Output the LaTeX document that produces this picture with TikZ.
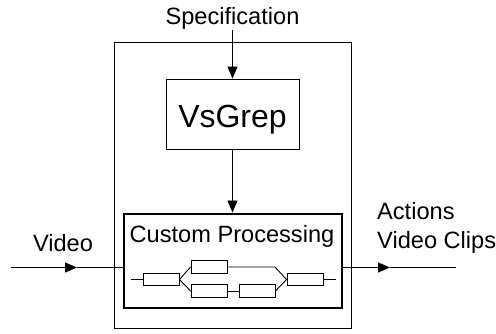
\documentclass[tikz,border=0pt]{standalone}
\usepackage{fontspec}
\setmainfont{Liberation Sans}
\usetikzlibrary{arrows.meta}
\begin{document}
\begin{tikzpicture}[x=1pt,y=-1pt,
  thin line/.style={line width=0.9pt},
  arr/.style={thin line,-{Triangle[length=12pt,width=10pt]}},
  pbox/.style={draw,line width=0.9pt,minimum width=36pt,minimum height=12.5pt,inner sep=0pt},
  lbl/.style={font=\fontsize{23.6}{26}\selectfont,inner sep=0pt,anchor=base}]
\useasboundingbox (0,0) rectangle (496,333);
% outer box
\draw[thin line] (114,42) rectangle (351,328);
% VsGrep
\node[draw,thin line,minimum width=133pt,minimum height=70pt,inner sep=0pt] (vs) at (232.5,114) {};
\node[lbl,font=\fontsize{32}{36}\selectfont] (vst) at (232.5,127) {VsGrep};
% custom processing
\node[draw,line width=2pt,minimum width=218pt,minimum height=94pt,inner sep=0pt] (cp) at (232.5,260.5) {};
\node[lbl] (cpt) at (232,242) {Custom Processing};
% Specification
\node[lbl] (spec) at (232.5,24) {Specification};
\coordinate (specb) at (232.5,30);
\draw[arr] (specb) -- (vs.north);
\draw[arr] (vs.south) -- (cp.north);
% Video in
\node[lbl] (vid) at (63,251) {Video};
\coordinate (vin) at (11,267.5);
\coordinate (vmid) at (77,267.5);
\draw[arr] (vin) -- (vmid);
\draw[thin line] (vmid) -- (cp.west |- vmid);
% output
\coordinate (omid) at (390,267.5);
\coordinate (oend) at (456,267.5);
\draw[arr,line width=1.3pt] (cp.east |- omid) -- (omid);
\draw[thin line] (omid) -- (oend);
\node[lbl,anchor=base west] (act) at (377,219) {Actions};
\node[lbl,anchor=base west] (vc) at (377,248) {Video Clips};
% pipeline
\node[pbox] (b1) at (161,279.5) {};
\node[pbox] (b2) at (209,267) {};
\node[pbox] (b3) at (209,291) {};
\node[pbox] (b4) at (257,291) {};
\node[pbox] (b5) at (305,279.5) {};
\coordinate (pl) at (131,279.5);
\coordinate (pr) at (336,279.5);
\coordinate (uk) at (275,267);
\draw[thin line] (pl) -- (b1.west);
\draw[thin line] (b1.east) -- (b2.west);
\draw[thin line] (b1.east) -- (b3.west);
\draw[thin line] (b2.east) -- (uk) -- (b5.west);
\draw[thin line] (b3.east) -- (b4.west);
\draw[thin line] (b4.east) -- (b5.west);
\draw[thin line] (b5.east) -- (pr);
\end{tikzpicture}
\end{document}
